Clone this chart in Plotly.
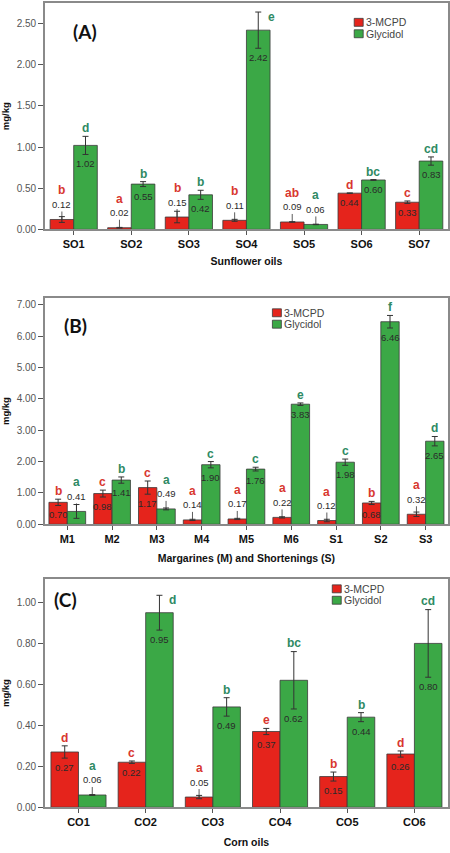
import plotly.graph_objects as go

# ---------------- data ----------------
# Panel A - Sunflower oils
cat_a = ["SO1", "SO2", "SO3", "SO4", "SO5", "SO6", "SO7"]
mcpd_a = [0.12, 0.02, 0.15, 0.11, 0.09, 0.44, 0.33]
mcpd_a_err = [0.035, 0.004, 0.07, 0.012, 0.003, 0.003, 0.015]
glyc_a = [1.02, 0.55, 0.42, 2.42, 0.06, 0.60, 0.83]
glyc_a_err = [0.11, 0.03, 0.055, 0.22, 0.003, 0.005, 0.05]
let_mcpd_a = ["b", "a", "b", "b", "ab", "d", "c"]
let_glyc_a = ["d", "b", "b", "e", "a", "bc", "cd"]

# Panel B - Margarines and shortenings
cat_b = ["M1", "M2", "M3", "M4", "M5", "M6", "S1", "S2", "S3"]
mcpd_b = [0.70, 0.98, 1.17, 0.14, 0.17, 0.22, 0.12, 0.68, 0.32]
mcpd_b_err = [0.10, 0.11, 0.21, 0.02, 0.02, 0.02, 0.04, 0.05, 0.07]
glyc_b = [0.41, 1.41, 0.49, 1.90, 1.76, 3.83, 1.98, 6.46, 2.65]
glyc_b_err = [0.22, 0.10, 0.03, 0.10, 0.06, 0.04, 0.10, 0.20, 0.15]
let_mcpd_b = ["b", "c", "c", "a", "a", "a", "a", "b", "a"]
let_glyc_b = ["a", "b", "a", "c", "c", "e", "c", "f", "d"]

# Panel C - Corn oils
cat_c = ["CO1", "CO2", "CO3", "CO4", "CO5", "CO6"]
mcpd_c = [0.27, 0.22, 0.05, 0.37, 0.15, 0.26]
mcpd_c_err = [0.03, 0.006, 0.008, 0.015, 0.022, 0.015]
glyc_c = [0.06, 0.95, 0.49, 0.62, 0.44, 0.80]
glyc_c_err = [0.002, 0.085, 0.045, 0.14, 0.022, 0.165]
let_mcpd_c = ["d", "c", "a", "e", "b", "d"]
let_glyc_c = ["a", "d", "b", "bc", "b", "cd"]

series_names = ["3-MCPD", "Glycidol"]
x_titles = ["Sunflower oils", "Margarines (M) and Shortenings (S)", "Corn oils"]
panel_tags = ["(A)", "(B)", "(C)"]
y_title = "mg/kg"

# ---------------- style ----------------
W, H = 450, 853
RED, GREEN = "#e5241c", "#3ba846"
LET_RED, LET_GREEN = "#d8372f", "#2f8a64"
FONT = "Liberation Sans, Arial, sans-serif"
BARGAP = 0.18
x_dom = [45 / W, 449 / W]
# plot-area pixel extents (top, bottom), y range, legend swatch pixel anchor (left, first-row centre)
panels = [
    dict(cats=cat_a, v=[mcpd_a, glyc_a], e=[mcpd_a_err, glyc_a_err],
         L=[let_mcpd_a, let_glyc_a], px=(3, 231), rng=2.75, dtick=0.5,
         tag_pos=(0.099, 0.872), leg_px=(355, 22.5), title_shift=8),
    dict(cats=cat_b, v=[mcpd_b, glyc_b], e=[mcpd_b_err, glyc_b_err],
         L=[let_mcpd_b, let_glyc_b], px=(300, 528), rng=7.22, dtick=1.0,
         tag_pos=(0.077, 0.88), leg_px=(273, 315), title_shift=10),
    dict(cats=cat_c, v=[mcpd_c, glyc_c], e=[mcpd_c_err, glyc_c_err],
         L=[let_mcpd_c, let_glyc_c], px=(583, 813), rng=1.115, dtick=0.2,
         tag_pos=(0.05, 0.909), leg_px=(333, 593), title_shift=11),
]
SW_W, SW_H, ROW = 9, 8, 11.5

fig = go.Figure()
annotations = []
shapes = []
bar_w = (1 - BARGAP) / 2

for p, P in enumerate(panels):
    sfx = "" if p == 0 else str(p + 1)
    xa, ya = "x" + sfx, "y" + sfx
    top_px, bot_px = P["px"]
    plot_h = bot_px - top_px
    ppu = plot_h / P["rng"]
    ncat = len(P["cats"])
    for s in range(2):
        fig.add_trace(go.Bar(
            x=P["cats"], y=P["v"][s], name=series_names[s],
            marker=dict(color=[RED, GREEN][s], line=dict(color="#3a3a3a", width=0.8)),
            error_y=dict(type="data", array=P["e"][s], color="#333333",
                         thickness=1, width=3),
            xaxis=xa, yaxis=ya, showlegend=False,
        ))
        for i in range(ncat):
            v = P["v"][s][i]
            err = P["e"][s][i]
            xpos = i + (s - 0.5) * bar_w
            bar_px = v * ppu
            inside = bar_px >= 18
            txt = f"{v:.2f}"
            if inside:
                annotations.append(dict(
                    x=xpos, y=v - err, xref=xa, yref=ya, text=txt,
                    showarrow=False, xanchor="center", yanchor="top", yshift=-2,
                    font=dict(family=FONT, size=9.5, color="#2a2a2a")))
                let_shift = err * ppu + 8
            else:
                annotations.append(dict(
                    x=xpos, y=v, xref=xa, yref=ya, text=txt,
                    showarrow=True, arrowhead=0, arrowwidth=0.8,
                    arrowcolor="#333333", ax=0, ay=-15, standoff=0,
                    font=dict(family=FONT, size=9.5, color="#2a2a2a")))
                let_shift = max(err * ppu + 8, 29)
            gap_top = (P["rng"] - v) * ppu - let_shift
            lfont = dict(family=FONT, size=12, color=[LET_RED, LET_GREEN][s])
            if gap_top < 9:
                side = -1 if i == ncat - 1 else 1
                annotations.append(dict(
                    x=xpos, y=v + err, xref=xa, yref=ya, text="<b>" + P["L"][s][i] + "</b>",
                    showarrow=False, xanchor="center", yanchor="middle",
                    xshift=13 * side, yshift=-5, font=lfont))
            else:
                annotations.append(dict(
                    x=xpos, y=v, xref=xa, yref=ya, text="<b>" + P["L"][s][i] + "</b>",
                    showarrow=False, xanchor="center", yanchor="middle",
                    yshift=let_shift, font=lfont))
    # panel tag
    annotations.append(dict(
        x=P["tag_pos"][0], y=P["tag_pos"][1], xref=xa + " domain", yref=ya + " domain",
        text="<b>" + panel_tags[p] + "</b>", showarrow=False,
        xanchor="center", yanchor="middle",
        font=dict(family="Lato, Open Sans, sans-serif", size=19, color="#111111")))

    # legend (swatches + labels)
    lx, ly = P["leg_px"]
    for s in range(2):
        cy = ly + s * ROW
        shapes.append(dict(
            type="rect", xref="paper", yref="paper",
            x0=lx / W, x1=(lx + SW_W) / W,
            y0=1 - (cy + SW_H / 2) / H, y1=1 - (cy - SW_H / 2) / H,
            fillcolor=[RED, GREEN][s], line=dict(color="#3a3a3a", width=0.8)))
        annotations.append(dict(
            x=(lx + SW_W + 1) / W, y=1 - cy / H, xref="paper", yref="paper",
            text=series_names[s], showarrow=False, xanchor="left", yanchor="middle",
            font=dict(family=FONT, size=10.5, color="#444444")))

    y_dom = [1 - bot_px / H, 1 - top_px / H]
    fig.update_layout(**{
        "xaxis" + sfx: dict(
            domain=x_dom, anchor=ya, type="category",
            showline=True, linecolor="#8a8a8a", linewidth=1.5, mirror=True,
            ticks="outside", ticklen=4, tickcolor="#555555",
            tickfont=dict(family=FONT, size=11, color="#111111", weight="bold"),
            title=dict(text="<b>" + x_titles[p] + "</b>", standoff=P["title_shift"],
                       font=dict(family=FONT, size=10.5, color="#111111")),
            showgrid=False, fixedrange=True),
        "yaxis" + sfx: dict(
            domain=y_dom, anchor=xa, range=[0, P["rng"]], dtick=P["dtick"],
            tick0=0, tickformat=".2f",
            showline=True, linecolor="#8a8a8a", linewidth=1.5, mirror=True,
            ticks="outside", ticklen=5, tickcolor="#555555",
            tickfont=dict(family=FONT, size=10, color="#555555"),
            title=dict(text="<b>" + y_title + "</b>", standoff=6,
                       font=dict(family=FONT, size=9.5, color="#111111")),
            showgrid=False, zeroline=False, fixedrange=True),
    })

fig.update_layout(
    width=W, height=H, margin=dict(l=0, r=0, t=0, b=0),
    paper_bgcolor="white", plot_bgcolor="white",
    barmode="group", bargap=BARGAP, bargroupgap=0,
    annotations=annotations, shapes=shapes, showlegend=False,
)

fig.write_html("out.html")
